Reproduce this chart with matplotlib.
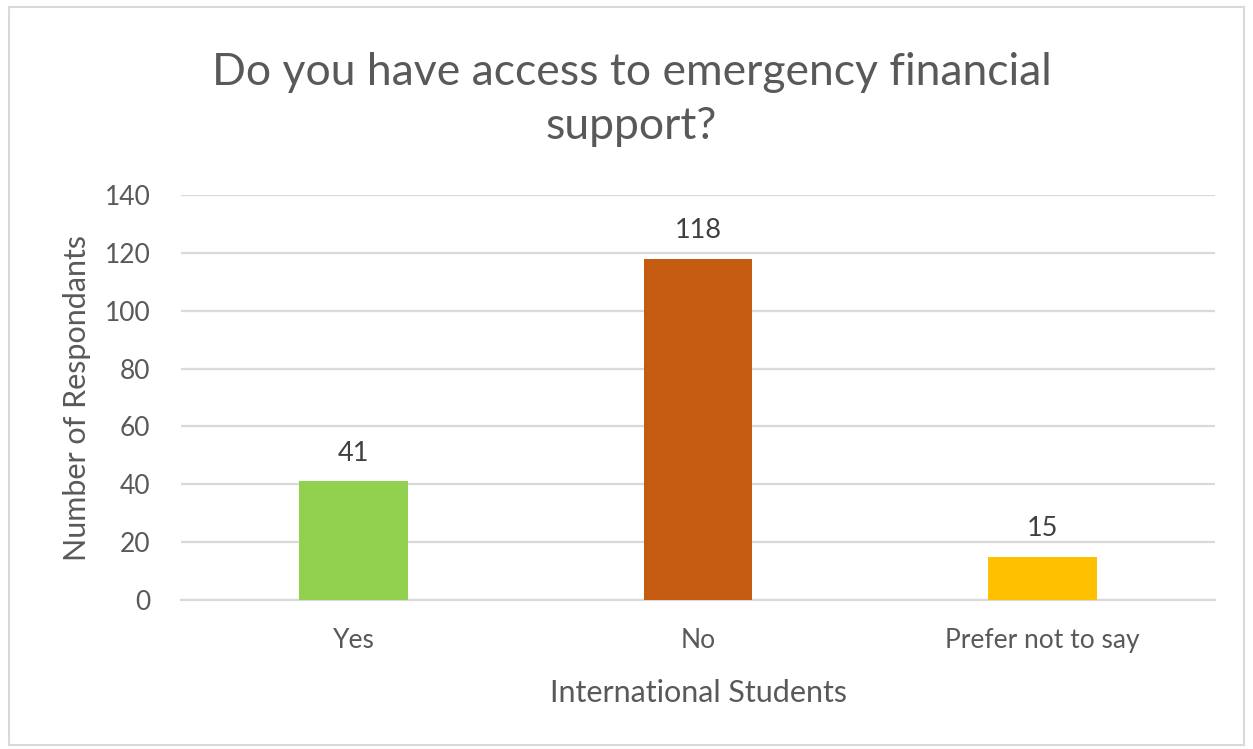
import matplotlib.pyplot as plt
from matplotlib.patches import Rectangle

plt.rcParams['font.family'] = ['Lato', 'DejaVu Sans']

categorias = ["Yes", "No", "Prefer not to say"]
respostas = [41, 118, 15]
cores = ["#92d050", "#c55a11", "#ffc000"]
ticks_y = [0, 20, 40, 60, 80, 100, 120, 140]

texto = "#595959"
grade = "#d9d9d9"

fig = plt.figure(figsize=(12.53, 7.49), dpi=100)
ax = fig.add_axes([0.1445, 0.1989, 0.8252, 0.5407])

x = range(len(categorias))
barras = ax.bar(x, respostas, width=0.315, color=cores, zorder=3)

# rótulos de valor acima de cada barra
for b, v in zip(barras, respostas):
    ax.annotate(str(v), (b.get_x() + b.get_width() / 2, v), xytext=(0, 11),
                textcoords="offset points", ha="center", va="bottom",
                fontsize=19.5, color="#404040")

ax.set_xlim(-0.5, len(categorias) - 0.5)
ax.set_ylim(0, 140)
ax.set_yticks(ticks_y)
ax.set_xticks(list(x))
ax.set_xticklabels(categorias)
ax.tick_params(axis="both", length=0, labelsize=19, colors=texto)
ax.tick_params(axis="x", pad=20)
ax.tick_params(axis="y", pad=22)
ax.yaxis.grid(True, color=grade, linewidth=1.6, zorder=0)
for lado in ["top", "right", "left"]:
    ax.spines[lado].set_visible(False)
ax.spines["bottom"].set_color(grade)
ax.spines["bottom"].set_linewidth(1.6)

ax.set_xlabel("International Students", fontsize=22, color=texto, labelpad=19)
ax.set_ylabel("Number of Respondants", fontsize=22, color=texto, labelpad=10)

fig.text(0.504, 0.867, "Do you have access to emergency financial\nsupport?",
         ha="center", va="center", fontsize=32, color=texto, linespacing=1.38)

# moldura do gráfico
fig.patches.append(Rectangle((0.007, 0.006), 0.986, 0.985, transform=fig.transFigure,
                             fill=False, edgecolor="#d9d9d9", linewidth=1.5))

fig.savefig("out.png", dpi=100)
